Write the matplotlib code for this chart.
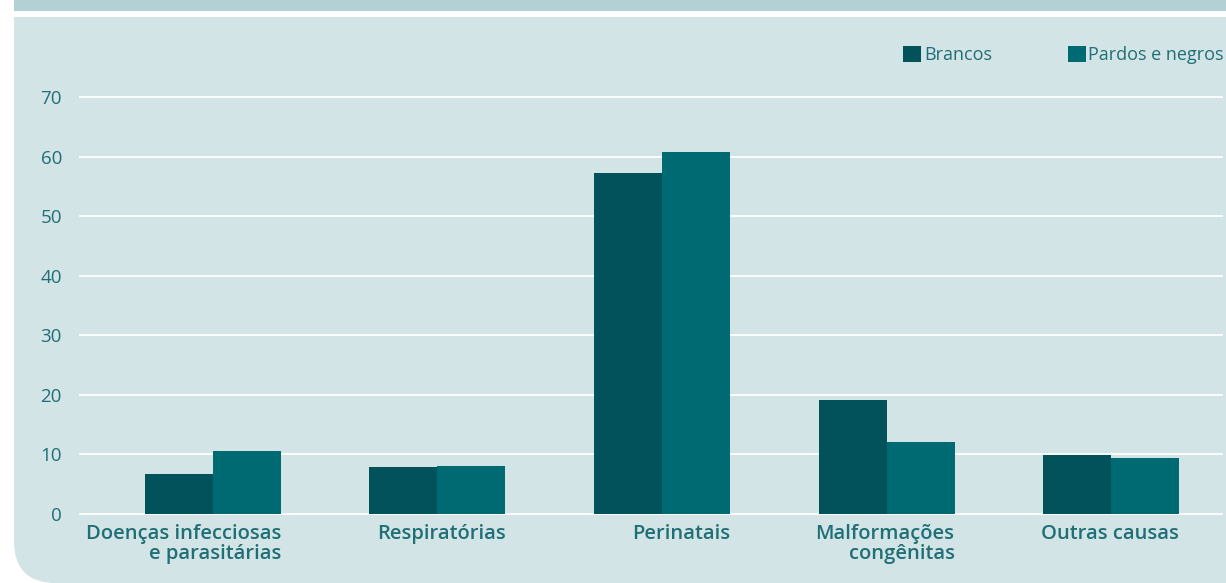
import matplotlib
matplotlib.use("Agg")
import matplotlib.pyplot as plt
import numpy as np
from matplotlib.patches import FancyBboxPatch, Rectangle

categories = ["Doenças infecciosas\ne parasitárias", "Respiratórias", "Perinatais",
              "Malformações\ncongênitas", "Outras causas"]
brancos = [6.7, 7.9, 57.2, 19.1, 9.9]
pardos = [10.6, 8.1, 60.8, 12.1, 9.4]
series_names = ["Brancos", "Pardos e negros"]
yticks = [0, 10, 20, 30, 40, 50, 60, 70]

c_br = "#02525c"
c_pn = "#006a73"
bg = "#d3e4e7"
band = "#b3d0d5"
txt = "#1f6f75"

plt.rcParams['font.family'] = ['Open Sans', 'DejaVu Sans']

W, H = 1226, 583
fig = plt.figure(figsize=(W/100, H/100), dpi=100)
fig.patch.set_facecolor("white")

# top band
fig.patches.append(Rectangle((14/W, 1 - 11/H), 1, 11/H, transform=fig.transFigure,
                             facecolor=band, edgecolor="none", zorder=-2))
# panel with rounded bottom-left corner
fig.patches.append(FancyBboxPatch((14/W, 0), 2, (H - 17)/H, transform=fig.transFigure,
                                  boxstyle="round,pad=0,rounding_size=0.034",
                                  mutation_aspect=W/H,
                                  facecolor=bg, edgecolor="none", zorder=-2))
fig.patches.append(Rectangle((14/W, 0.3), 1, (H - 17)/H - 0.3, transform=fig.transFigure,
                             facecolor=bg, edgecolor="none", zorder=-2))

ax = fig.add_axes([80/W, 1 - 514/H, (1222 - 80)/W, (514 - 97)/H])
ax.set_facecolor("none")
x = np.arange(len(categories))
bw = 0.303
ax.bar(x - bw/2, brancos, bw, color=c_br, zorder=3, label=series_names[0])
ax.bar(x + bw/2, pardos, bw, color=c_pn, zorder=3, label=series_names[1])
ax.set_xlim(-0.592, 4.494)
ax.set_ylim(0, 70)
for v in yticks:
    ax.axhline(v, color="white", lw=1.3, zorder=1, clip_on=False)
ax.set_yticks(yticks)
ax.set_yticklabels([str(v) for v in yticks], color=txt, fontsize=13.5)
ax.tick_params(axis="y", length=0, pad=13)
ax.set_xticks([])
for s in ax.spines.values():
    s.set_visible(False)

for xi, lab in zip(x, categories):
    ax.text(xi + bw, -1.7, lab, ha="right", va="top", color=txt, fontsize=14.5,
            fontweight="semibold", linespacing=1.0)

# legend
leg = ax.legend(loc="upper left", bbox_to_anchor=(903/W, 1 - 46/H), bbox_transform=fig.transFigure,
                ncol=2, frameon=False, fontsize=13, handlelength=1.0, handleheight=1.0,
                handletextpad=0.15, columnspacing=4.2, borderpad=0, borderaxespad=0)
for t in leg.get_texts():
    t.set_color(txt)

fig.savefig("out.png", dpi=100, facecolor=fig.get_facecolor())
